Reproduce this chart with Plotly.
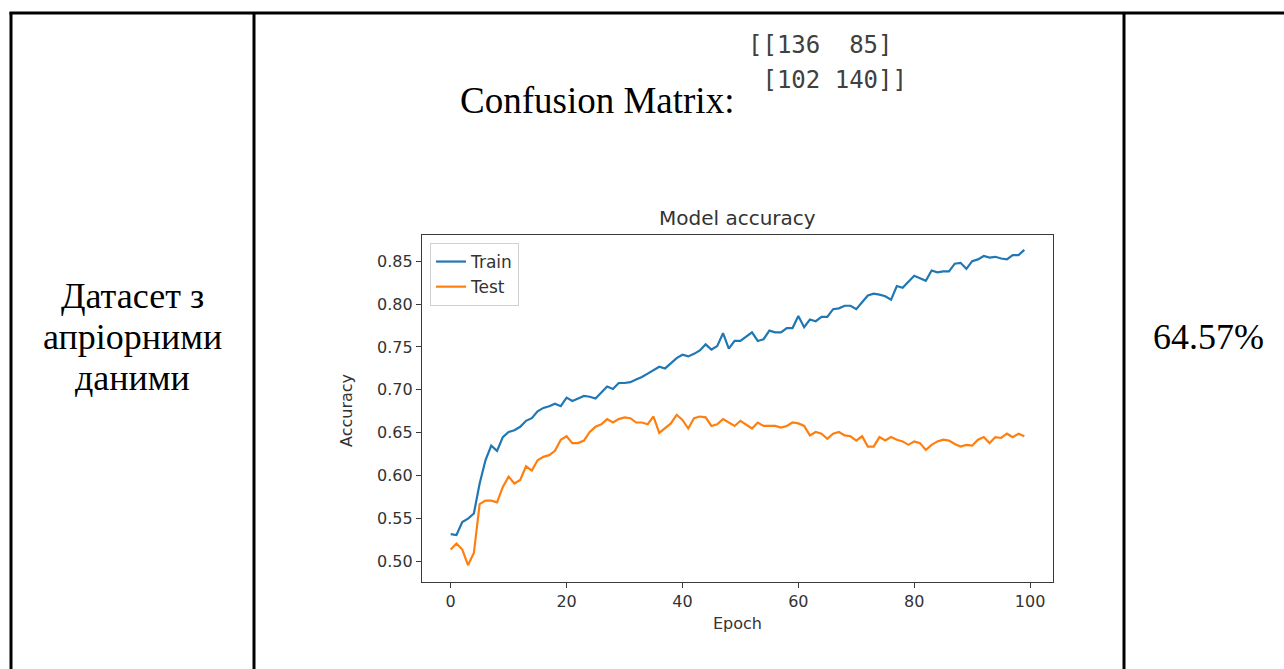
import plotly.graph_objects as go

W, H = 1284, 669

epochs = list(range(100))
train_acc = [
    0.532, 0.531, 0.546, 0.550, 0.556, 0.591, 0.618, 0.635, 0.629, 0.645,
    0.651, 0.653, 0.657, 0.664, 0.667, 0.675, 0.679, 0.681, 0.684, 0.681,
    0.691, 0.687, 0.690, 0.693, 0.692, 0.690, 0.697, 0.704, 0.701, 0.708,
    0.708, 0.709, 0.712, 0.715, 0.719, 0.723, 0.727, 0.725, 0.731, 0.737,
    0.741, 0.739, 0.742, 0.746, 0.753, 0.747, 0.751, 0.766, 0.748, 0.757,
    0.757, 0.762, 0.767, 0.757, 0.759, 0.769, 0.767, 0.767, 0.772, 0.772,
    0.786, 0.773, 0.782, 0.780, 0.785, 0.785, 0.794, 0.795, 0.798, 0.798,
    0.794, 0.802, 0.810, 0.812, 0.811, 0.809, 0.805, 0.821, 0.819, 0.826,
    0.833, 0.830, 0.827, 0.839, 0.837, 0.838, 0.838, 0.847, 0.848, 0.841,
    0.850, 0.852, 0.856, 0.854, 0.855, 0.853, 0.852, 0.857, 0.857, 0.863,
]
test_acc = [
    0.514, 0.521, 0.514, 0.496, 0.510, 0.567, 0.571, 0.571, 0.569, 0.587,
    0.599, 0.591, 0.595, 0.611, 0.606, 0.618, 0.622, 0.624, 0.629, 0.642,
    0.646, 0.638, 0.638, 0.641, 0.651, 0.657, 0.660, 0.666, 0.662, 0.666,
    0.668, 0.667, 0.662, 0.662, 0.660, 0.669, 0.650, 0.656, 0.661, 0.671,
    0.665, 0.655, 0.667, 0.669, 0.668, 0.658, 0.660, 0.666, 0.662, 0.658,
    0.664, 0.660, 0.655, 0.662, 0.658, 0.658, 0.658, 0.656, 0.658, 0.662,
    0.661, 0.658, 0.647, 0.651, 0.649, 0.643, 0.649, 0.651, 0.647, 0.646,
    0.641, 0.646, 0.634, 0.634, 0.645, 0.641, 0.645, 0.642, 0.640, 0.636,
    0.640, 0.638, 0.630, 0.636, 0.640, 0.642, 0.641, 0.637, 0.634, 0.636,
    0.635, 0.642, 0.645, 0.638, 0.645, 0.644, 0.649, 0.645, 0.649, 0.646,
]

x_ticks = [0, 20, 40, 60, 80, 100]
y_ticks = [0.50, 0.55, 0.60, 0.65, 0.70, 0.75, 0.80, 0.85]

row_label = ["Датасет з", "апріорними", "даними"]
result_text = "64.57%"
cm_rows = ["[[136\u00a0\u00a085]", "\u00a0[102\u00a0140]]"]

SERIF = "Liberation Serif, Times New Roman, serif"
SANS = "DejaVu Sans, sans-serif"
MONO = "DejaVu Sans Mono, monospace"
AX_COLOR = "#3a3a3a"


def px_x(x):
    return x / W


def px_y(y):
    return 1 - y / H


def text(fig, s, x, y, size, family, color="black", xanchor="center", angle=0):
    fig.add_annotation(
        text=s, x=px_x(x), y=px_y(y), xref="paper", yref="paper",
        showarrow=False, xanchor=xanchor, yanchor="middle", textangle=angle,
        font=dict(family=family, size=size, color=color),
    )


fig = go.Figure()
fig.add_trace(go.Scatter(x=epochs, y=train_acc, mode="lines", name="Train",
                         line=dict(color="#1f77b4", width=2.2)))
fig.add_trace(go.Scatter(x=epochs, y=test_acc, mode="lines", name="Test",
                         line=dict(color="#ff7f0e", width=2.2)))

axis_common = dict(
    showgrid=False, zeroline=False, showline=True, mirror=True,
    linecolor=AX_COLOR, linewidth=1.3, ticks="outside", ticklen=5,
    tickcolor=AX_COLOR, tickwidth=1.2,
    tickfont=dict(family=SANS, size=16, color="#333333"),
)

fig.update_layout(
    width=W, height=H,
    margin=dict(l=0, r=0, t=0, b=0),
    plot_bgcolor="white", paper_bgcolor="white",
    showlegend=True,
    legend=dict(
        x=px_x(430), y=px_y(243), xanchor="left", yanchor="top",
        bgcolor="rgba(255,255,255,0.8)", bordercolor="#d0d0d0", borderwidth=1,
        font=dict(family=SANS, size=17, color="#333333"),
        tracegroupgap=0,
    ),
    xaxis=dict(domain=[px_x(422), px_x(1053)], range=[-4.95, 103.95],
               tickvals=x_ticks, **axis_common),
    yaxis=dict(domain=[px_y(581.7), px_y(235)], range=[0.4766, 0.8804],
               tickvals=y_ticks, tickformat=".2f", **axis_common),
)

# chart texts
text(fig, "Model accuracy", 737, 218, 20, SANS, "#333333")
text(fig, "Epoch", 737, 623, 16, SANS, "#333333")
text(fig, "Accuracy", 346, 410, 16, SANS, "#333333", angle=-90)

# table texts
for i, line in enumerate(row_label):
    text(fig, line, 132, 296 + i * 41, 36, SERIF)
text(fig, result_text, 1208, 337, 36, SERIF)
text(fig, "Confusion Matrix:", 597, 100, 37, SERIF)
for i, row in enumerate(cm_rows):
    text(fig, row, 746, 45 + i * 35, 24, MONO, "#404040", xanchor="left")

# table borders
line = dict(color="black", width=3)
fig.add_shape(type="line", xref="paper", yref="paper",
              x0=px_x(9.5), x1=1, y0=px_y(13), y1=px_y(13), line=line)
for xv in (11, 254, 1124):
    fig.add_shape(type="line", xref="paper", yref="paper",
                  x0=px_x(xv), x1=px_x(xv), y0=px_y(12), y1=0, line=line)

# page body has a default 8px margin; drop it so pixels line up
fig.write_html("out.html", config={"displayModeBar": False},
               post_script="document.body.style.margin = '0';")
